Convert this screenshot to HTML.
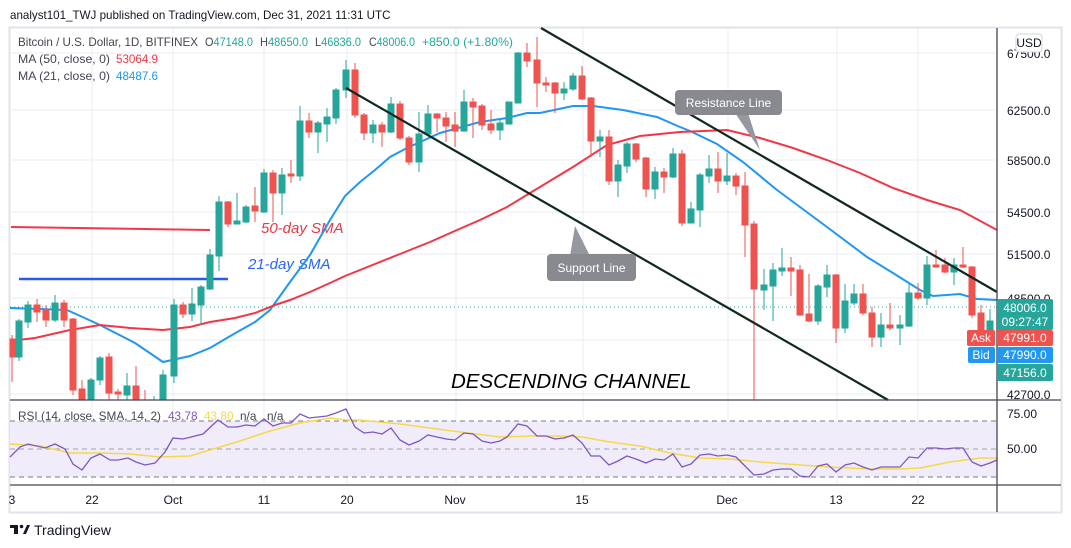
<!DOCTYPE html>
<html><head><meta charset="utf-8"><style>
html,body{margin:0;padding:0;background:#fff;width:1071px;height:548px;overflow:hidden}
svg text{font-family:"Liberation Sans","DejaVu Sans",sans-serif}
</style></head><body>
<svg width="1071" height="548" viewBox="0 0 1071 548" xmlns="http://www.w3.org/2000/svg">
<text x="10" y="19" font-size="11.6" fill="#131722">analyst101_TWJ published on TradingView.com, Dec 31, 2021 11:31 UTC</text>
<rect x="9.5" y="27.5" width="1052" height="485" fill="#fff" stroke="#e0e3eb" stroke-width="2"/>
<!-- grid -->
<g stroke="#e9eef4" stroke-width="1">
<line x1="92" y1="28" x2="92" y2="485"/><line x1="173" y1="28" x2="173" y2="485"/><line x1="264" y1="28" x2="264" y2="485"/><line x1="347" y1="28" x2="347" y2="485"/><line x1="456" y1="28" x2="456" y2="485"/><line x1="583" y1="28" x2="583" y2="485"/><line x1="728" y1="28" x2="728" y2="485"/><line x1="837" y1="28" x2="837" y2="485"/><line x1="918" y1="28" x2="918" y2="485"/>
<line x1="10" y1="53" x2="997" y2="53"/><line x1="10" y1="110" x2="997" y2="110"/><line x1="10" y1="160" x2="997" y2="160"/><line x1="10" y1="212" x2="997" y2="212"/><line x1="10" y1="254" x2="997" y2="254"/><line x1="10" y1="298" x2="997" y2="298"/><line x1="10" y1="340" x2="997" y2="340"/><line x1="10" y1="394" x2="997" y2="394"/>
</g>
<!-- legend -->
<g font-size="11.8" fill="#434651">
<text x="18" y="46" textLength="180" lengthAdjust="spacingAndGlyphs">Bitcoin / U.S. Dollar, 1D, BITFINEX</text>
<text x="205" y="46" textLength="48" lengthAdjust="spacingAndGlyphs">O<tspan fill="#26a69a">47148.0</tspan></text>
<text x="260" y="46" textLength="48" lengthAdjust="spacingAndGlyphs">H<tspan fill="#26a69a">48650.0</tspan></text>
<text x="315" y="46" textLength="46" lengthAdjust="spacingAndGlyphs">L<tspan fill="#26a69a">46836.0</tspan></text>
<text x="369" y="46" textLength="46" lengthAdjust="spacingAndGlyphs">C<tspan fill="#26a69a">48006.0</tspan></text>
<text x="422" y="46" fill="#26a69a" textLength="91" lengthAdjust="spacingAndGlyphs">+850.0 (+1.80%)</text>
<text x="18" y="63" textLength="92" lengthAdjust="spacingAndGlyphs">MA (50, close, 0)</text><text x="116" y="63" fill="#f23645" textLength="42" lengthAdjust="spacingAndGlyphs">53064.9</text>
<text x="18" y="80" textLength="92" lengthAdjust="spacingAndGlyphs">MA (21, close, 0)</text><text x="116" y="80" fill="#2196f3" textLength="42" lengthAdjust="spacingAndGlyphs">48487.6</text>
</g>
<!-- close line -->
<line x1="10" y1="307" x2="997" y2="307" stroke="#26a69a" stroke-dasharray="1,3"/>
<!-- annotation lines -->
<line x1="11" y1="227" x2="210" y2="230" stroke="#ef3a47" stroke-width="2"/>
<line x1="19" y1="279" x2="228" y2="279" stroke="#2a5bf0" stroke-width="2.5"/>
<text x="261" y="233" font-size="15" font-style="italic" fill="#e53945">50-day SMA</text>
<text x="248" y="269" font-size="15" font-style="italic" fill="#2962ff">21-day SMA</text>
<!-- MAs -->
<polyline fill="none" stroke="#2196f3" stroke-width="2" points="10,308 67,310 100,325 135,343 163,362 190,356 210,348 232,335 255,322 270,310 290,282 310,255 330,220 345,196 360,182 375,170 390,157 407,148 440,133 480,122 507,118 527,113 540,113 573,106 593,106 623,110 657,117 680,127 690,131 717,144 743,162 777,190 827,227 867,257 893,273 920,290 933,296 960,294 977,299 997,300"/>
<polyline fill="none" stroke="#f23645" stroke-width="2" points="10,341 35,338 70,330 100,325 130,328 163,330 190,327 210,322 235,318 255,313 275,305 290,300 310,292 330,283 345,276 360,270 400,254 430,242 457,230 480,220 507,207 530,193 573,167 607,145 640,136 680,132 727,130 760,138 793,148 827,160 860,173 893,188 927,200 960,210 997,230"/>
<!-- candles -->
<g stroke-width="1">
<g stroke="#ef5350" fill="#ef5350">
<line x1="12" y1="335" x2="12" y2="382"/><rect x="10" y="339" width="5" height="18"/>
<line x1="37" y1="299" x2="37" y2="322"/><rect x="34" y="305" width="6" height="7"/>
<line x1="46" y1="305" x2="46" y2="327"/><rect x="43" y="310" width="6" height="10"/>
<line x1="64" y1="300" x2="64" y2="327"/><rect x="61" y="303" width="6" height="17"/>
<line x1="73" y1="318" x2="73" y2="395"/><rect x="70" y="319" width="6" height="71"/>
<line x1="82" y1="380" x2="82" y2="400"/><rect x="79" y="389" width="6" height="11"/>
<line x1="109" y1="353" x2="109" y2="400"/><rect x="106" y="357" width="6" height="36"/>
<line x1="118" y1="389" x2="118" y2="400"/><rect x="115" y="392" width="6" height="2"/>
<line x1="136" y1="366" x2="136" y2="400"/><rect x="133" y="386" width="6" height="14"/>
<line x1="145" y1="390" x2="145" y2="400"/>
<line x1="183" y1="302" x2="183" y2="318"/><rect x="180" y="305" width="6" height="9"/>
<line x1="228" y1="201" x2="228" y2="227"/><rect x="225" y="202" width="6" height="22"/>
<line x1="255" y1="187" x2="255" y2="222"/><rect x="252" y="206" width="6" height="5"/>
<line x1="273" y1="170" x2="273" y2="222"/><rect x="270" y="173" width="6" height="20"/>
<line x1="291" y1="160" x2="291" y2="183"/><rect x="288" y="174" width="6" height="2"/>
<line x1="309" y1="113" x2="309" y2="138"/><rect x="306" y="121" width="6" height="11"/>
<line x1="355" y1="63" x2="355" y2="118"/><rect x="352" y="70" width="6" height="45"/>
<line x1="364" y1="113" x2="364" y2="140"/><rect x="361" y="115" width="6" height="18"/>
<line x1="382" y1="122" x2="382" y2="147"/><rect x="379" y="125" width="6" height="7"/>
<line x1="400" y1="101" x2="400" y2="140"/><rect x="397" y="104" width="6" height="34"/>
<line x1="409" y1="136" x2="409" y2="165"/><rect x="406" y="138" width="6" height="24"/>
<line x1="437" y1="113" x2="437" y2="132"/><rect x="434" y="114" width="6" height="4"/>
<line x1="446" y1="112" x2="446" y2="142"/><rect x="443" y="118" width="6" height="8"/>
<line x1="455" y1="112" x2="455" y2="147"/><rect x="452" y="125" width="6" height="6"/>
<line x1="473" y1="98" x2="473" y2="138"/><rect x="470" y="102" width="6" height="5"/>
<line x1="482" y1="104" x2="482" y2="130"/><rect x="479" y="106" width="6" height="19"/>
<line x1="491" y1="110" x2="491" y2="134"/><rect x="488" y="124" width="6" height="6"/>
<line x1="527" y1="43" x2="527" y2="67"/><rect x="524" y="53" width="6" height="8"/>
<line x1="537" y1="37" x2="537" y2="107"/><rect x="534" y="60" width="6" height="23"/>
<line x1="546" y1="77" x2="546" y2="92"/><rect x="543" y="83" width="6" height="2"/>
<line x1="555" y1="82" x2="555" y2="113"/><rect x="552" y="83" width="6" height="10"/>
<line x1="582" y1="66" x2="582" y2="100"/><rect x="579" y="76" width="6" height="23"/>
<line x1="591" y1="97" x2="591" y2="157"/><rect x="588" y="98" width="6" height="43"/>
<line x1="609" y1="130" x2="609" y2="185"/><rect x="606" y="137" width="6" height="44"/>
<line x1="636" y1="143" x2="636" y2="162"/><rect x="633" y="144" width="6" height="15"/>
<line x1="646" y1="157" x2="646" y2="197"/><rect x="643" y="158" width="6" height="31"/>
<line x1="664" y1="168" x2="664" y2="193"/><rect x="661" y="172" width="6" height="5"/>
<line x1="682" y1="150" x2="682" y2="226"/><rect x="679" y="154" width="6" height="69"/>
<line x1="718" y1="152" x2="718" y2="193"/><rect x="715" y="169" width="6" height="12"/>
<line x1="736" y1="173" x2="736" y2="195"/><rect x="733" y="176" width="6" height="10"/>
<line x1="745" y1="172" x2="745" y2="257"/><rect x="742" y="186" width="6" height="39"/>
<line x1="754" y1="221" x2="754" y2="400"/><rect x="751" y="224" width="6" height="65"/>
<line x1="791" y1="257" x2="791" y2="296"/><rect x="788" y="268" width="6" height="3"/>
<line x1="800" y1="265" x2="800" y2="316"/><rect x="797" y="270" width="6" height="45"/>
<line x1="809" y1="274" x2="809" y2="322"/><rect x="806" y="314" width="6" height="7"/>
<line x1="836" y1="274" x2="836" y2="343"/><rect x="833" y="275" width="6" height="53"/>
<line x1="863" y1="284" x2="863" y2="315"/><rect x="860" y="294" width="6" height="19"/>
<line x1="872" y1="307" x2="872" y2="347"/><rect x="869" y="313" width="6" height="24"/>
<line x1="890" y1="303" x2="890" y2="330"/><rect x="887" y="325" width="6" height="3"/>
<line x1="918" y1="283" x2="918" y2="300"/><rect x="915" y="293" width="6" height="5"/>
<line x1="936" y1="250" x2="936" y2="268"/><rect x="933" y="265" width="6" height="2"/>
<line x1="945" y1="258" x2="945" y2="273"/><rect x="942" y="265" width="6" height="7"/>
<line x1="963" y1="247" x2="963" y2="268"/><rect x="960" y="265" width="6" height="2"/>
<line x1="972" y1="266" x2="972" y2="318"/><rect x="969" y="267" width="6" height="48"/>
<line x1="981" y1="305" x2="981" y2="340"/><rect x="978" y="313" width="6" height="24"/>
</g>
<g stroke="#26a69a" fill="#26a69a">
<line x1="19" y1="319" x2="19" y2="361"/><rect x="16" y="321" width="6" height="36"/>
<line x1="28" y1="301" x2="28" y2="328"/><rect x="25" y="305" width="6" height="17"/>
<line x1="55" y1="295" x2="55" y2="322"/><rect x="52" y="303" width="6" height="17"/>
<line x1="91" y1="378" x2="91" y2="400"/><rect x="88" y="380" width="6" height="20"/>
<line x1="100" y1="356" x2="100" y2="385"/><rect x="97" y="358" width="6" height="22"/>
<line x1="127" y1="373" x2="127" y2="400"/><rect x="124" y="386" width="6" height="9"/>
<line x1="154" y1="396" x2="154" y2="400"/>
<line x1="163" y1="370" x2="163" y2="400"/><rect x="160" y="375" width="6" height="25"/>
<line x1="174" y1="299" x2="174" y2="383"/><rect x="171" y="305" width="6" height="71"/>
<line x1="192" y1="288" x2="192" y2="321"/><rect x="189" y="304" width="6" height="10"/>
<line x1="201" y1="285" x2="201" y2="325"/><rect x="198" y="287" width="6" height="18"/>
<line x1="210" y1="249" x2="210" y2="290"/><rect x="207" y="255" width="6" height="34"/>
<line x1="219" y1="196" x2="219" y2="271"/><rect x="216" y="202" width="6" height="54"/>
<line x1="237" y1="193" x2="237" y2="224"/><rect x="234" y="221" width="6" height="3"/>
<line x1="246" y1="205" x2="246" y2="223"/><rect x="243" y="207" width="6" height="15"/>
<line x1="264" y1="169" x2="264" y2="213"/><rect x="261" y="173" width="6" height="39"/>
<line x1="282" y1="168" x2="282" y2="215"/><rect x="279" y="175" width="6" height="18"/>
<line x1="300" y1="106" x2="300" y2="181"/><rect x="297" y="121" width="6" height="55"/>
<line x1="318" y1="121" x2="318" y2="153"/><rect x="315" y="123" width="6" height="9"/>
<line x1="327" y1="108" x2="327" y2="142"/><rect x="324" y="117" width="6" height="7"/>
<line x1="336" y1="88" x2="336" y2="124"/><rect x="333" y="90" width="6" height="28"/>
<line x1="346" y1="60" x2="346" y2="98"/><rect x="343" y="70" width="6" height="20"/>
<line x1="373" y1="120" x2="373" y2="143"/><rect x="370" y="125" width="6" height="8"/>
<line x1="391" y1="97" x2="391" y2="133"/><rect x="388" y="104" width="6" height="28"/>
<line x1="419" y1="112" x2="419" y2="172"/><rect x="416" y="134" width="6" height="28"/>
<line x1="428" y1="105" x2="428" y2="136"/><rect x="425" y="114" width="6" height="20"/>
<line x1="464" y1="90" x2="464" y2="132"/><rect x="461" y="102" width="6" height="29"/>
<line x1="500" y1="120" x2="500" y2="140"/><rect x="497" y="123" width="6" height="7"/>
<line x1="509" y1="102" x2="509" y2="124"/><rect x="506" y="102" width="6" height="22"/>
<line x1="518" y1="52" x2="518" y2="103"/><rect x="515" y="53" width="6" height="50"/>
<line x1="564" y1="82" x2="564" y2="100"/><rect x="561" y="89" width="6" height="4"/>
<line x1="573" y1="73" x2="573" y2="91"/><rect x="570" y="76" width="6" height="13"/>
<line x1="600" y1="130" x2="600" y2="157"/><rect x="597" y="137" width="6" height="4"/>
<line x1="618" y1="160" x2="618" y2="197"/><rect x="615" y="165" width="6" height="16"/>
<line x1="627" y1="142" x2="627" y2="173"/><rect x="624" y="144" width="6" height="22"/>
<line x1="655" y1="167" x2="655" y2="199"/><rect x="652" y="172" width="6" height="17"/>
<line x1="673" y1="148" x2="673" y2="178"/><rect x="670" y="154" width="6" height="23"/>
<line x1="691" y1="202" x2="691" y2="223"/><rect x="688" y="209" width="6" height="14"/>
<line x1="700" y1="173" x2="700" y2="227"/><rect x="697" y="175" width="6" height="35"/>
<line x1="709" y1="155" x2="709" y2="183"/><rect x="706" y="169" width="6" height="7"/>
<line x1="727" y1="153" x2="727" y2="185"/><rect x="724" y="176" width="6" height="5"/>
<line x1="764" y1="269" x2="764" y2="310"/><rect x="761" y="285" width="6" height="5"/>
<line x1="773" y1="263" x2="773" y2="321"/><rect x="770" y="270" width="6" height="16"/>
<line x1="782" y1="248" x2="782" y2="276"/><rect x="779" y="268" width="6" height="3"/>
<line x1="818" y1="284" x2="818" y2="325"/><rect x="815" y="286" width="6" height="35"/>
<line x1="827" y1="265" x2="827" y2="297"/><rect x="824" y="275" width="6" height="12"/>
<line x1="845" y1="284" x2="845" y2="333"/><rect x="842" y="301" width="6" height="27"/>
<line x1="854" y1="284" x2="854" y2="305"/><rect x="851" y="294" width="6" height="9"/>
<line x1="881" y1="313" x2="881" y2="347"/><rect x="878" y="325" width="6" height="12"/>
<line x1="900" y1="315" x2="900" y2="345"/><rect x="897" y="325" width="6" height="3"/>
<line x1="909" y1="284" x2="909" y2="327"/><rect x="906" y="293" width="6" height="33"/>
<line x1="927" y1="256" x2="927" y2="305"/><rect x="924" y="265" width="6" height="33"/>
<line x1="954" y1="258" x2="954" y2="285"/><rect x="951" y="265" width="6" height="7"/>
<line x1="990" y1="309" x2="990" y2="340"/><rect x="987" y="321" width="6" height="16"/>
</g>
</g>
<!-- channel -->
<line x1="541" y1="28" x2="997" y2="292" stroke="#10281f" stroke-width="2.2"/>
<line x1="346" y1="88" x2="888" y2="400" stroke="#10281f" stroke-width="2.2"/>
<!-- callouts -->
<polygon points="735,113 760,150 748,113" fill="#9598a1"/>
<rect x="675" y="90" width="107" height="25" rx="4" fill="#888a90"/>
<text x="728.5" y="107" font-size="12" fill="#fff" text-anchor="middle">Resistance Line</text>
<polygon points="570,256 575,226 590,256" fill="#9598a1"/>
<rect x="547" y="254" width="89" height="27" rx="4" fill="#888a90"/>
<text x="591.5" y="272" font-size="12" fill="#fff" text-anchor="middle">Support Line</text>
<text x="451" y="388" font-size="20.5" font-style="italic" fill="#000">DESCENDING CHANNEL</text>
<!-- RSI pane -->
<rect x="10" y="421" width="987" height="56" fill="#f0ecf9"/>
<g stroke="#787b86" stroke-dasharray="5,4" stroke-width="1">
<line x1="10" y1="421" x2="997" y2="421"/><line x1="10" y1="449" x2="997" y2="449" stroke="#a0a3ab"/><line x1="10" y1="477" x2="997" y2="477"/>
</g>
<polyline fill="none" stroke="#f5d94a" stroke-width="1.5" points="10,444 40,446 70,453 100,453 130,454 160,457 190,456 210,450 240,441 270,431 300,423 330,418 346,420 360,420 400,424 430,428 460,432 500,437 530,436 560,436 582,437 610,442 640,446 670,453 700,458 730,459 760,462 800,465 830,467 870,469 900,469 920,468 950,462 980,458 997,458"/>
<polyline fill="none" stroke="#7e57c2" stroke-width="1.3" points="10,457 20,447 28,444 45,448 55,444 65,449 73,464 82,470 91,458 100,454 110,460 118,460 128,458 136,462 145,465 155,463 165,452 173,438 183,439 195,436 203,434 218,420 228,427 237,427 246,425 255,426 264,419 273,426 282,423 291,423 300,414 309,418 318,417 327,416 336,413 346,409 355,427 364,433 373,432 382,434 391,428 400,440 409,445 419,441 428,435 437,437 446,439 455,440 464,433 473,434 482,441 491,443 500,441 507,437 518,424 527,426 537,436 546,436 555,439 564,438 573,435 582,443 591,456 600,456 609,465 618,461 627,456 636,459 646,463 655,459 664,460 673,454 682,467 691,464 700,455 709,454 718,456 727,455 736,457 745,466 754,475 764,474 773,470 782,469 791,469 800,476 809,477 818,466 827,464 836,472 845,465 854,463 863,467 872,470 881,467 890,467 900,467 909,457 918,458 927,448 936,448 945,449 954,448 963,448 972,462 981,466 990,463 997,460"/>
<g font-size="11.8" fill="#434651">
<text x="18" y="420">RSI (14, close, SMA, 14, 2)</text>
<text x="168" y="420" fill="#7e57c2">43.78</text>
<text x="204" y="420" fill="#f5d94a">43.80</text>
<text x="240" y="420">n/a</text><text x="267" y="420">n/a</text>
</g>
<!-- pane borders -->
<line x1="10" y1="400" x2="1061" y2="400" stroke="#434651" stroke-width="1.3"/>
<line x1="10" y1="485" x2="1061" y2="485" stroke="#434651" stroke-width="1.3"/>
<line x1="997" y1="28" x2="997" y2="512" stroke="#434651" stroke-width="1.3"/>
<!-- right axis -->
<g font-size="12" fill="#131722">
<text x="1007" y="58">67500.0</text><text x="1007" y="115">62500.0</text><text x="1007" y="165">58500.0</text><text x="1007" y="217">54500.0</text><text x="1007" y="259">51500.0</text><text x="1007" y="303">48500.0</text><text x="1007" y="399">42700.0</text>
<text x="1007" y="418">75.00</text><text x="1007" y="453">50.00</text>
</g>
<rect x="1016" y="34" width="26" height="18" rx="3" fill="#fff" stroke="#d1d4dc"/>
<text x="1029" y="47" font-size="12" fill="#131722" text-anchor="middle">USD</text>
<rect x="997" y="299" width="56" height="31" rx="2" fill="#26a69a"/>
<text x="1025" y="312" font-size="12" fill="#fff" text-anchor="middle">48006.0</text>
<text x="1025" y="326" font-size="12" fill="#fff" text-anchor="middle">09:27:47</text>
<rect x="967" y="330" width="28" height="16" rx="2" fill="#ef5350"/>
<text x="981" y="342" font-size="12" fill="#fff" text-anchor="middle">Ask</text>
<rect x="997" y="330" width="56" height="16" rx="2" fill="#ef5350"/>
<text x="1025" y="342" font-size="12" fill="#fff" text-anchor="middle">47991.0</text>
<rect x="968" y="347" width="27" height="16" rx="2" fill="#2196f3"/>
<text x="981" y="359" font-size="12" fill="#fff" text-anchor="middle">Bid</text>
<rect x="997" y="347" width="56" height="16" rx="2" fill="#2196f3"/>
<text x="1025" y="359" font-size="12" fill="#fff" text-anchor="middle">47990.0</text>
<rect x="997" y="364" width="56" height="17" rx="2" fill="#26a69a"/>
<text x="1025" y="377" font-size="12" fill="#fff" text-anchor="middle">47156.0</text>
<!-- time axis -->
<g font-size="12" fill="#131722" text-anchor="middle">
<text x="12" y="504">3</text><text x="92" y="504">22</text><text x="173" y="504">Oct</text><text x="264" y="504">11</text><text x="347" y="504">20</text><text x="455" y="504">Nov</text><text x="582" y="504">15</text><text x="727" y="504">Dec</text><text x="836" y="504">13</text><text x="918" y="504">22</text>
</g>
<!-- logo -->
<g fill="#131722">
<rect x="10" y="525" width="8" height="3"/><rect x="14" y="525" width="4" height="9"/>
<circle cx="21.5" cy="526.5" r="1.8"/><polygon points="23,534 27,525 30,525 26,534"/>
</g>
<text x="34" y="535" font-size="14" fill="#131722">TradingView</text>
</svg>
</body></html>
